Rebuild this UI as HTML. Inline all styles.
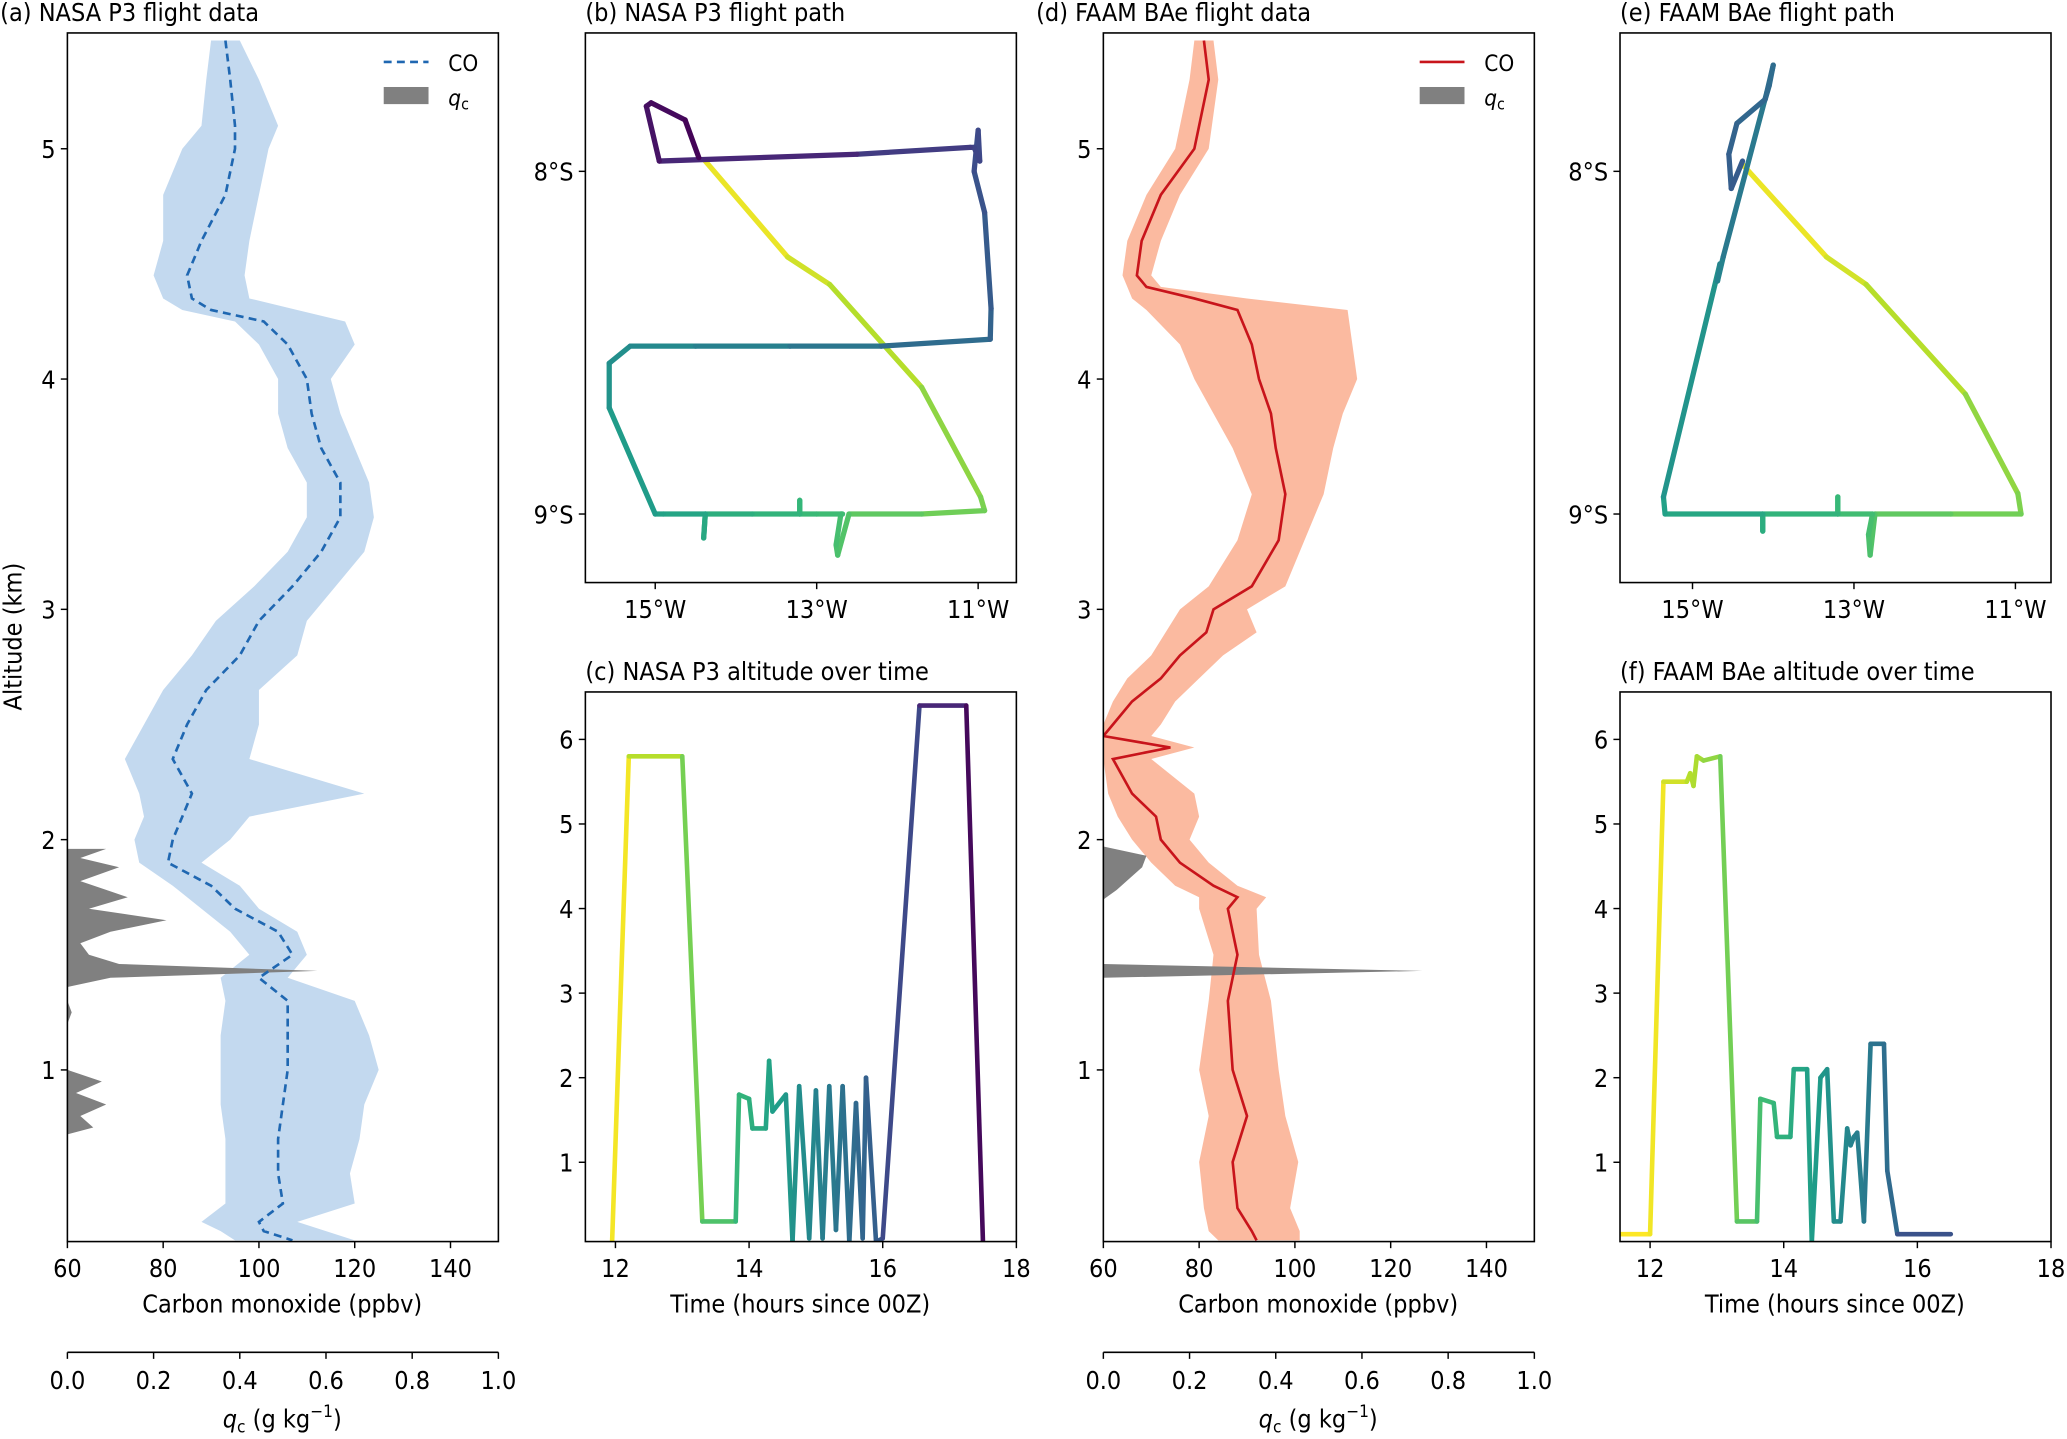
<!DOCTYPE html>
<html><head><meta charset="utf-8">
<style>
html,body{margin:0;padding:0;background:#fff;}
svg text{font-family:"DejaVu Sans Condensed","DejaVu Sans","Liberation Sans",sans-serif;font-stretch:condensed;fill:#000;}
</style></head>
<body>
<svg id="fig" width="2067" height="1434" viewBox="0 0 1568 1088" xmlns="http://www.w3.org/2000/svg"></svg>
<script>
// ---- data: panel (a) NASA P3 CO profile ----
const altA=[5.47,5.3,5.1,5.0,4.8,4.6,4.45,4.35,4.3,4.25,4.15,4.0,3.85,3.7,3.55,3.4,3.25,3.1,2.95,2.8,2.65,2.5,2.35,2.2,2.1,2.0,1.9,1.8,1.7,1.6,1.5,1.4,1.3,1.15,1.0,0.85,0.7,0.55,0.42,0.34,0.3,0.26];
const coA=[93,94,95,95,93,88,85,86,90,101,106,110,111,113,117,117,113,107,100,96,89,85,82,86,84,82,81,90,95,104,107,100,106,106,106,105,104,104,105,100,101,107];
const loA=[90,89,88,84,80,80,78,80,84,95,100,104,104,106,110,110,106,99,91,86,80,76,72,75,76,74,75,82,88,94,98,92,93,92,92,92,93,93,93,88,92,95];
const hiA=[96,100,104,102,100,98,97,98,108,118,120,115,117,120,123,124,122,116,110,108,100,100,98,122,98,94,88,96,100,108,110,106,120,123,125,122,121,119,120,108,114,120];
const qcAltA=[1.96,1.92,1.88,1.82,1.75,1.7,1.65,1.6,1.55,1.5,1.46,1.43,1.40,1.36,1.3,1.25,1.2,1.1,1.0,0.95,0.9,0.85,0.8,0.75,0.72];
const qcA=[0.09,0.03,0.12,0.03,0.14,0.05,0.23,0.1,0.03,0.05,0.12,0.58,0.1,0.0,0.0,0.01,0.0,0.0,0.0,0.08,0.02,0.09,0.03,0.06,0.0];
// ---- data: panel (d) FAAM CO profile ----
const altD=[5.47,5.3,5.0,4.8,4.6,4.45,4.4,4.35,4.3,4.15,4.0,3.85,3.7,3.5,3.3,3.1,3.0,2.9,2.8,2.7,2.6,2.5,2.45,2.4,2.35,2.2,2.1,2.0,1.9,1.8,1.75,1.7,1.5,1.3,1.0,0.8,0.6,0.4,0.3,0.26];
const coD=[81,82,79,72,68,67,69,79,88,91,92.5,95,96,98,96.6,91,83,81.5,76,72,66,62,60,74,62,66,71,72,76,83,88,86,88,86,87,90,87,88,91,92];
const loD=[79,78,75,69,65,64,65,66,69,76,79,83,87,91,88,82,76,73,70,65,62,60,60,60,60,61,63,66,70,75,80,80,83,82,80,82,80,81,82,84];
const hiD=[83,84,82,76,72,70,72,90,111,112,113,110,108,106,102,98,90,92,85,80,75,72,70,79,70,79,80,78,82,88,94,92,92.5,95,96.6,98,100.7,99,101,101];
const qcAltD=[1.97,1.93,1.88,1.83,1.78,1.74,1.6,1.46,1.43,1.40,1.36,1.2];
const qcD=[0.0,0.1,0.09,0.06,0.03,0.0,0.0,0.0,0.74,0.0,0.0,0.0];
// ---- panel (b) NASA path: lon (deg W), lat (deg S) ----
const lonB=[14.38,13.36,12.84,11.70,10.97,10.92,11.70,12.60,12.74,12.76,12.70,12.68,13.00,13.21,13.21,13.21,13.8,14.38,14.40,14.38,14.9,15.0,15.57,15.57,15.31,14.5,13.33,12.2,10.85,10.84,10.92,11.05,11.0,10.98,11.05,11.1,12.5,14.95,15.11,15.05,14.63,14.46];
const latB=[7.97,8.25,8.33,8.63,8.95,8.99,9.0,9.0,9.12,9.09,9.0,9.0,9.0,9.0,8.96,9.0,9.0,9.0,9.07,9.0,9.0,9.0,8.69,8.56,8.51,8.51,8.51,8.51,8.49,8.40,8.12,8.0,7.88,7.97,7.93,7.93,7.95,7.97,7.81,7.80,7.85,7.96];
// ---- panel (e) FAAM path ----
const lonE=[14.38,13.34,12.85,11.62,10.97,10.93,11.8,12.74,12.80,12.82,12.77,13.2,13.2,13.2,14.13,14.13,14.13,15.34,15.36,14.66,14.69,14.62,14.08,14.0,14.05,14.1,14.45,14.55,14.52,14.38];
const latE=[7.98,8.25,8.33,8.65,8.94,9.0,9.0,9.0,9.12,9.06,9.0,9.0,8.95,9.0,9.0,9.05,9.0,9.0,8.95,8.27,8.32,8.25,7.77,7.69,7.75,7.79,7.86,7.95,8.05,7.97];
// ---- panel (c)/(f) altitude vs time ----
const tC=[11.95,12.2,13.0,13.3,13.8,13.85,14.0,14.05,14.25,14.3,14.35,14.55,14.65,14.75,14.9,15.0,15.1,15.2,15.3,15.4,15.5,15.6,15.7,15.75,15.9,16.0,16.55,17.25,17.5];
const zC=[0.06,5.8,5.8,0.3,0.3,1.8,1.75,1.4,1.4,2.2,1.6,1.8,0.06,1.9,0.1,1.85,0.1,1.9,0.2,1.9,0.06,1.7,0.1,2.0,0.06,0.1,6.4,6.4,0.06];
const tF=[11.5,12.0,12.2,12.55,12.6,12.65,12.7,12.8,13.05,13.3,13.6,13.65,13.85,13.9,14.1,14.15,14.35,14.42,14.55,14.65,14.75,14.85,14.95,15.0,15.05,15.1,15.2,15.3,15.5,15.55,15.7,16.5];
const zF=[0.15,0.15,5.5,5.5,5.6,5.45,5.8,5.75,5.8,0.3,0.3,1.75,1.7,1.3,1.3,2.1,2.1,0.06,2.0,2.1,0.3,0.3,1.4,1.2,1.3,1.35,0.3,2.4,2.4,0.9,0.15,0.15];
const ticksCO=[60,80,100,120,140];
const ticksQC=["0.0","0.2","0.4","0.6","0.8","1.0"];
const ticksAlt=[1,2,3,4,5];
const ticksZ=[1,2,3,4,5,6];
const ticksT=[12,14,16,18];
const ticksLon=[15,13,11];
const ticksLat=[8,9];

const NS="http://www.w3.org/2000/svg";
const svg=document.getElementById('fig');
function mk(tag,attrs,parent){const e=document.createElementNS(NS,tag);for(const k in attrs)e.setAttribute(k,attrs[k]);(parent||svg).appendChild(e);return e;}
function txt(s,x,y,size,anchor,parent){const t=mk('text',{x:x,y:y,'font-size':size,'text-anchor':anchor||'middle'},parent);t.textContent=s;return t;}
function lin(d0,d1,r0,r1){return v=>r0+(v-d0)*(r1-r0)/(d1-d0);}
const VIR=[[253,231,37],[181,222,43],[110,206,88],[53,183,121],[31,158,137],[38,130,142],[49,104,142],[62,73,137],[72,40,120],[68,1,84]];
function vir(f){f=Math.max(0,Math.min(1,f));const p=f*(VIR.length-1);const i=Math.min(VIR.length-2,Math.floor(p));const r=p-i;const a=VIR[i],b=VIR[i+1];return `rgb(${Math.round(a[0]+(b[0]-a[0])*r)},${Math.round(a[1]+(b[1]-a[1])*r)},${Math.round(a[2]+(b[2]-a[2])*r)})`;}
let clipN=0;
function frame(x0,y0,x1,y1,name){
  const g=mk('g',{});
  
  
  const id='c'+(clipN++);
  const cp=mk('clipPath',{id:id},g);mk('rect',{x:x0,y:y0,width:x1-x0,height:y1-y0},cp);
  const inner=mk('g',{'clip-path':`url(#${id})`},g);
  return {g:g,inner:inner,x0:x0,y0:y0,x1:x1,y1:y1};
}
function border(ax){const r=mk('rect',{x:ax.x0,y:ax.y0,width:ax.x1-ax.x0,height:ax.y1-ax.y0,fill:'none',stroke:'#000','stroke-width':1.2},ax.g);}
function xticks(ax,vals,sx,labels,yb){
  const g=mk('g',{},ax.g);
  
  
  vals.forEach((v,i)=>{const x=sx(v);mk('line',{x1:x,x2:x,y1:yb,y2:yb+5,stroke:'#000','stroke-width':1.1},g);txt(labels?labels[i]:String(v),x,yb+27,19,'middle',g);});
}
function yticks(ax,vals,sy,labels){
  const g=mk('g',{},ax.g);
  
  
  vals.forEach((v,i)=>{const y=sy(v);mk('line',{x1:ax.x0-5,x2:ax.x0,y1:y,y2:y,stroke:'#000','stroke-width':1.1},g);txt(labels?labels[i]:String(v),ax.x0-9,y+7,19,'end',g);});
}
function colorLine(parent,xs,ys,fr,w,name){
  const g=mk('g',{fill:'none','stroke-width':w,'stroke-linecap':'round','stroke-linejoin':'round'},parent);
  
  
  const n=xs.length;
  for(let i=0;i<n-1;i++){
    const seg=mk('line',{x1:xs[i],y1:ys[i],x2:xs[i+1],y2:ys[i+1],stroke:vir((fr[i]+fr[i+1])/2)},g);
    
  }
}
// ---------- profile panels ----------
function profile(x0,title,alt,co,lo,hi,qcAlt,qc,band,lineCol,dashed,legendName){
  const ax=frame(x0,25,x0+327,942,legendName);
  const sx=lin(60,150,x0,x0+327), sy=lin(0,5.5,986.5,25.5), sq=lin(0,1,x0,x0+327);
  let d='M'+alt.map((a,i)=>sx(lo[i])+','+sy(a)).join('L')+'L'+alt.slice().reverse().map((a,i)=>sx(hi[alt.length-1-i])+','+sy(a)).join('L')+'Z';
  const b=mk('path',{d:d,fill:band,stroke:'none'},ax.inner);
  
  
  let dq='M'+sq(0)+','+sy(qcAlt[0])+'L'+qcAlt.map((a,i)=>sq(qc[i])+','+sy(a)).join('L')+'L'+sq(0)+','+sy(qcAlt[qcAlt.length-1])+'Z';
  const q=mk('path',{d:dq,fill:'#808080',stroke:'none'},ax.inner);
  
  
  const l=mk('polyline',{points:alt.map((a,i)=>sx(co[i])+','+sy(a)).join(' '),fill:'none',stroke:lineCol,'stroke-width':2,'stroke-dasharray':dashed?'6,4':'none'},ax.inner);
  
  
  border(ax);
  xticks(ax,ticksCO,sx,null,942);
  yticks(ax,ticksAlt,sy);
  const t=txt(title,x0-51,16,19,'start',ax.g);
  const xl=txt('Carbon monoxide (ppbv)',x0+163,996,19,'middle',ax.g);
  const g2=mk('g',{},ax.g);
  
  
  mk('line',{x1:x0,x2:x0+327,y1:1026,y2:1026,stroke:'#000','stroke-width':1.2},g2);
  ticksQC.forEach(v=>{const x=sq(+v);mk('line',{x1:x,x2:x,y1:1026,y2:1031,stroke:'#000','stroke-width':1.1},g2);txt(v,x,1054,19,'middle',g2);});
  const qt=mk('text',{x:x0+163,y:1083,'font-size':19,'text-anchor':'middle'},g2);
  qt.innerHTML='<tspan font-style="italic">q</tspan><tspan font-size="13" dy="4">c</tspan><tspan dy="-4"> (g kg</tspan><tspan font-size="13" dy="-8">−1</tspan><tspan dy="8">)</tspan>';
  
  const lg=mk('g',{},ax.g);
  
  
  mk('line',{x1:x0+240,x2:x0+274,y1:47,y2:47,stroke:lineCol,'stroke-width':2,'stroke-dasharray':dashed?'6,4':'none'},lg);
  txt('CO',x0+289,54,17,'start',lg);
  mk('rect',{x:x0+240,y:66,width:34,height:13,fill:'#808080'},lg);
  const qq=mk('text',{x:x0+289,y:80,'font-size':17,'text-anchor':'start'},lg);
  qq.innerHTML='<tspan font-style="italic">q</tspan><tspan font-size="12" dy="3">c</tspan>';
  return ax;
}
profile(51,'(a) NASA P3 flight data',altA,coA,loA,hiA,qcAltA,qcA,'#c3d9ef','#1f67b1',true,'panel-a-nasa-profile');
profile(837,'(d) FAAM BAe flight data',altD,coD,loD,hiD,qcAltD,qcD,'#fbbaa0','#c8141b',false,'panel-d-faam-profile');
const yl=txt('Altitude (km)',0,0,19,'middle');
yl.setAttribute('transform','translate(16,483) rotate(-90)');



// ---------- map panels ----------
function mapPanel(x0,lonRef,title,lon,lat,endFrac,name){
  const ax=frame(x0,25,x0+327,442,name);
  const sx=lin(15,11,lonRef,lonRef+245), sy=lin(8,9,130,390);
  const xs=lon.map(sx), ys=lat.map(sy);
  const cum=[0];for(let i=1;i<xs.length;i++)cum.push(cum[i-1]+Math.hypot(xs[i]-xs[i-1],ys[i]-ys[i-1]));
  const tot=cum[cum.length-1];
  colorLine(ax.inner,xs,ys,cum.map(c=>c/tot*endFrac),4,'flight-path');
  border(ax);
  xticks(ax,ticksLon,sx,ticksLon.map(v=>v+'°W'),442);
  yticks(ax,ticksLat,sy,ticksLat.map(v=>v+'°S'));
  const t=txt(title,x0,16,19,'start',ax.g);
}
mapPanel(444,497,'(b) NASA P3 flight path',lonB,latB,1.0,'panel-b-nasa-path');
mapPanel(1229,1284,'(e) FAAM BAe flight path',lonE,latE,0.72,'panel-e-faam-path');

// ---------- altitude-time panels ----------
function timePanel(x0,title,t,z,name){
  const ax=frame(x0,525,x0+327,942,name);
  const sx=lin(11.55,18,x0,x0+327), sy=lin(0,6,946,561);
  colorLine(ax.inner,t.map(sx),z.map(sy),t.map(v=>(v-12)/5.5),3.5,'altitude-trace');
  border(ax);
  xticks(ax,ticksT,sx,null,942);
  yticks(ax,ticksZ,sy);
  const tt=txt(title,x0,516,19,'start',ax.g);
  const xl=txt('Time (hours since 00Z)',x0+163,996,19,'middle',ax.g);
}
timePanel(444,'(c) NASA P3 altitude over time',tC,zC,'panel-c-nasa-altitude');
timePanel(1229,'(f) FAAM BAe altitude over time',tF,zF,'panel-f-faam-altitude');
</script>
</body></html>
